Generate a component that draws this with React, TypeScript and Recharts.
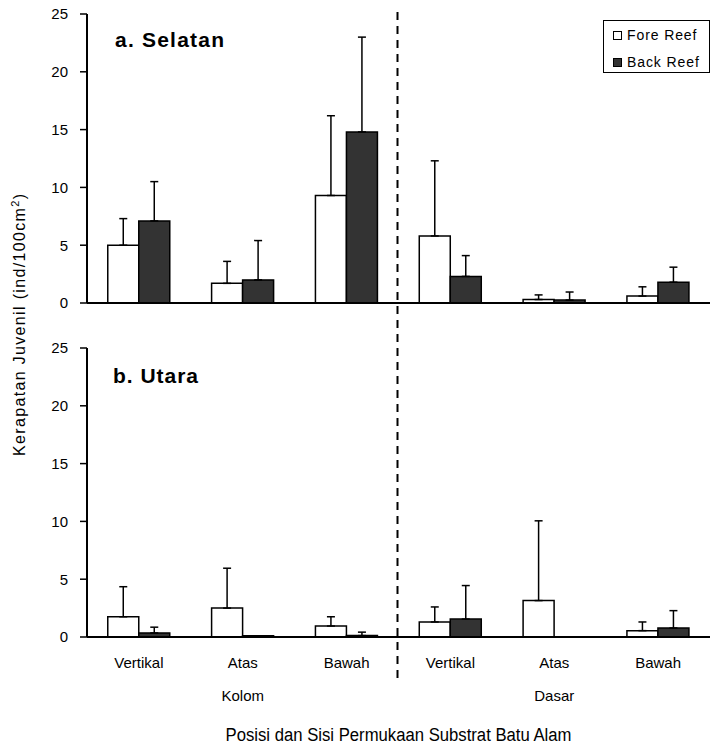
import React from 'react';
import { BarChart, Bar, XAxis, YAxis, ErrorBar, Legend } from 'recharts';

// ---------- data ----------
const categoryLabels = ['Vertikal', 'Atas', 'Bawah', 'Vertikal', 'Atas', 'Bawah'];
const groupLabels = ['', 'Kolom', '', '', 'Dasar', ''];
const seriesNames = ['Fore Reef', 'Back Reef'];

// a. Selatan
const selatanFore = [5.0, 1.7, 9.3, 5.8, 0.3, 0.6];
const selatanForeSD = [2.3, 1.9, 6.9, 6.5, 0.4, 0.8];
const selatanBack = [7.1, 2.0, 14.8, 2.3, 0.25, 1.8];
const selatanBackSD = [3.4, 3.4, 8.2, 1.8, 0.7, 1.3];

// b. Utara
const utaraFore = [1.75, 2.5, 0.95, 1.3, 3.15, 0.55];
const utaraForeSD = [2.6, 3.45, 0.8, 1.3, 6.9, 0.75];
const utaraBack = [0.35, 0.1, 0.12, 1.55, 0, 0.78];
const utaraBackSD = [0.5, 0, 0.3, 2.9, 0, 1.5];

const yTicks = [0, 5, 10, 15, 20, 25];
const boundaryTicks = [0, 1, 2, 3, 4, 5, 6];

const panelTitles = ['a. Selatan', 'b. Utara'];
const yAxisTitle = 'Kerapatan Juvenil (ind/100cm';
const xAxisTitle = 'Posisi dan Sisi Permukaan Substrat Batu Alam';

const buildRows = (fore: number[], foreSD: number[], back: number[], backSD: number[]) =>
  categoryLabels.map((label, i) => ({
    id: `c${i}`,
    label,
    group: groupLabels[i],
    fore: fore[i],
    foreErr: [0, foreSD[i]],
    back: back[i],
    backErr: [0, backSD[i]],
  }));

const selatanRows = buildRows(selatanFore, selatanForeSD, selatanBack, selatanBackSD);
const utaraRows = buildRows(utaraFore, utaraForeSD, utaraBack, utaraBackSD);

const FONT = "'Liberation Sans', Arial, sans-serif";

const CatTick = (props: any) => {
  const { x, y, payload, index } = props;
  const i = typeof index === 'number' ? index : payload.index;
  const grp = groupLabels[i];
  return (
    <g>
      <text x={x} y={y} dy={11} textAnchor="middle" fontFamily={FONT} fontSize={15} fill="#000">
        {categoryLabels[i]}
      </text>
      {grp ? (
        <text x={x} y={y} dy={44} textAnchor="middle" fontFamily={FONT} fontSize={15} fill="#000">
          {grp}
        </text>
      ) : null}
    </g>
  );
};

const XTitle = (props: any) => {
  const vb = props.viewBox || {};
  const cx = (vb.x || 0) + (vb.width || 0) / 2;
  const by = (vb.y || 0) + (vb.height || 0) - 8;
  return (
    <text
      x={cx}
      y={by}
      textAnchor="middle"
      fontFamily={FONT}
      fontSize={18}
      fill="#000"
      textLength={346}
      lengthAdjust="spacingAndGlyphs"
    >
      {xAxisTitle}
    </text>
  );
};

const LegendBox = () => (
  <div
    style={{
      border: '1.5px solid #000',
      background: '#fff',
      width: 107,
      height: 53,
      boxSizing: 'border-box',
      fontFamily: FONT,
      fontSize: 14,
      letterSpacing: 0.9,
      color: '#000',
      paddingLeft: 9,
      paddingTop: 3,
    }}
  >
    {seriesNames.map((n, i) => (
      <div key={n} style={{ display: 'flex', alignItems: 'center', height: 22, marginTop: i === 0 ? 0 : 5 }}>
        <span
          style={{
            display: 'inline-block',
            width: 7,
            height: 7,
            border: '1.5px solid #000',
            background: i === 0 ? '#fff' : '#333',
            marginRight: 5,
          }}
        />
        <span>{n}</span>
      </div>
    ))}
  </div>
);

const yAxisProps = {
  domain: [0, 25] as [number, number],
  ticks: yTicks,
  width: 87,
  tickSize: 7,
  tickMargin: 12,
  interval: 0 as const,
  axisLine: { stroke: '#000', strokeWidth: 2 },
  tickLine: { stroke: '#000', strokeWidth: 1.5 },
  tick: { fill: '#000', fontSize: 15, fontFamily: FONT },
};

export default function App() {
  return (
    <div style={{ position: 'absolute', left: 0, top: 0, width: 712, height: 749, background: '#fff' }}>
      <div style={{ position: 'absolute', left: 0, top: 0 }}>
        <BarChart
          width={712}
          height={320}
          data={selatanRows}
          margin={{ top: 14, right: 2, bottom: 0, left: 0 }}
          barCategoryGap="20%"
          barGap={0}
        >
          <XAxis xAxisId="cat" dataKey="id" type="category" hide />
          <XAxis
            xAxisId="base"
            type="number"
            domain={[0, 6]}
            ticks={boundaryTicks}
            allowDataOverflow
            tick={false}
            tickSize={7}
            height={17}
            axisLine={{ stroke: '#000', strokeWidth: 2 }}
            tickLine={{ stroke: '#000', strokeWidth: 1.5 }}
          />
          <YAxis {...yAxisProps} />
          <Legend
            layout="horizontal"
            verticalAlign="middle"
            align="center"
            content={<LegendBox />}
            wrapperStyle={{ position: 'absolute', left: 603, top: 20, width: 107, height: 53 }}
          />
          <Bar xAxisId="cat" dataKey="fore" name={seriesNames[0]} fill="#fff" stroke="#000" strokeWidth={1.5} isAnimationActive={false}>
            <ErrorBar dataKey="foreErr" direction="y" width={4} stroke="#000" strokeWidth={1.5} />
          </Bar>
          <Bar xAxisId="cat" dataKey="back" name={seriesNames[1]} fill="#333333" stroke="#000" strokeWidth={1.5} isAnimationActive={false}>
            <ErrorBar dataKey="backErr" direction="y" width={4} stroke="#000" strokeWidth={1.5} />
          </Bar>
        </BarChart>
      </div>
      <div style={{ position: 'absolute', left: 0, top: 320 }}>
        <BarChart
          width={712}
          height={429}
          data={utaraRows}
          margin={{ top: 28, right: 2, bottom: 0, left: 0 }}
          barCategoryGap="20%"
          barGap={0}
        >
          <XAxis
            xAxisId="cat"
            dataKey="id"
            type="category"
            height={111}
            axisLine={false}
            tickLine={false}
            tickSize={0}
            tickMargin={19}
            interval={0}
            tick={<CatTick />}
            label={<XTitle />}
          />
          <XAxis
            xAxisId="base"
            type="number"
            domain={[0, 6]}
            ticks={boundaryTicks}
            allowDataOverflow
            tick={false}
            tickSize={7}
            height={1}
            axisLine={{ stroke: '#000', strokeWidth: 2 }}
            tickLine={{ stroke: '#000', strokeWidth: 1.5 }}
          />
          <YAxis {...yAxisProps} />
          <Bar xAxisId="cat" dataKey="fore" name={seriesNames[0]} fill="#fff" stroke="#000" strokeWidth={1.5} isAnimationActive={false}>
            <ErrorBar dataKey="foreErr" direction="y" width={4} stroke="#000" strokeWidth={1.5} />
          </Bar>
          <Bar xAxisId="cat" dataKey="back" name={seriesNames[1]} fill="#333333" stroke="#000" strokeWidth={1.5} isAnimationActive={false}>
            <ErrorBar dataKey="backErr" direction="y" width={4} stroke="#000" strokeWidth={1.5} />
          </Bar>
        </BarChart>
      </div>
      <svg
        width={712}
        height={749}
        style={{ position: 'absolute', left: 0, top: 0, pointerEvents: 'none' }}
      >
        <line x1={397.5} y1={12} x2={397.5} y2={680} stroke="#000" strokeWidth={2} strokeDasharray="8 6" />
        <text x={115} y={47} fontFamily={FONT} fontWeight="bold" fontSize={21} fill="#000" textLength={109} lengthAdjust="spacing">
          {panelTitles[0]}
        </text>
        <text x={113} y={383} fontFamily={FONT} fontWeight="bold" fontSize={21} fill="#000" textLength={85} lengthAdjust="spacing">
          {panelTitles[1]}
        </text>
        <text
          transform="translate(25 325) rotate(-90)"
          textAnchor="middle"
          fontFamily={FONT}
          fontSize={16}
          fill="#000"
          textLength={262}
          lengthAdjust="spacing"
        >
          {yAxisTitle}
          <tspan dy={-6} fontSize={11}>2</tspan>
          <tspan dy={6}>)</tspan>
        </text>
      </svg>
    </div>
  );
}
